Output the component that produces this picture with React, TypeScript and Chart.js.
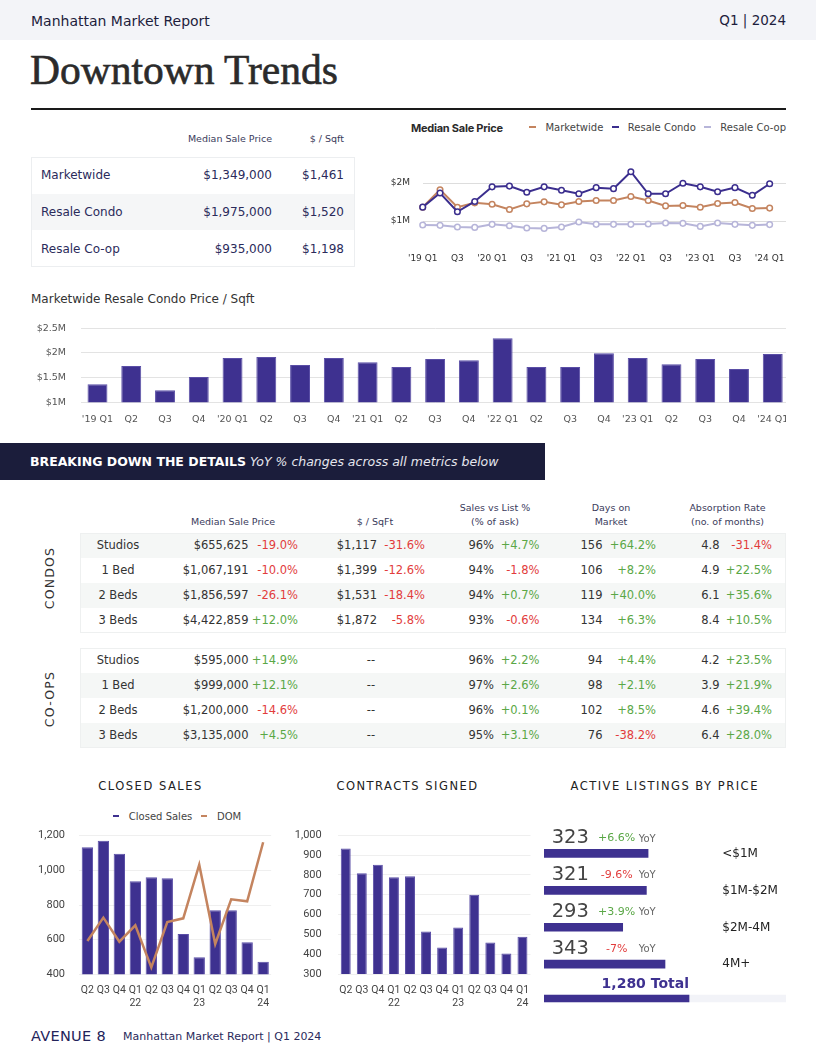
import React, { useEffect, useRef } from "react";
import { Chart, registerables } from "chart.js";

Chart.register(...registerables);

const SANS = "'DejaVu Sans', 'Noto Sans', sans-serif";
const SERIF = "'Liberation Serif', 'DejaVu Serif', serif";
const INTER = "Inter, 'DejaVu Sans', sans-serif";
const ROBOTO = "Roboto, 'DejaVu Sans', sans-serif";

const NAVY = "#3e3190";
const BAR_EDGE = "#5a4ea6";
const LINE_NAVY = "#3b2e8e";
const ORANGE = "#c4845f";
const LAVENDER = "#b7b5d9";
const INK = "#2b2b5b";
const RED = "#e23c3c";
const GREEN = "#5aa746";

// ---------------- data ----------------
const quarterLabels = ["'19 Q1", "Q2", "Q3", "Q4", "'20 Q1", "Q2", "Q3", "Q4", "'21 Q1", "Q2", "Q3", "Q4", "'22 Q1", "Q2", "Q3", "Q4", "'23 Q1", "Q2", "Q3", "Q4", "'24 Q1"];
const marketwidePrice = [1363000, 1823000, 1363000, 1478000, 1442000, 1301000, 1451000, 1504000, 1425000, 1513000, 1540000, 1540000, 1646000, 1540000, 1398000, 1407000, 1363000, 1460000, 1487000, 1330000, 1340000];
const resaleCondoPrice = [1365000, 1736000, 1243000, 1514000, 1899000, 1919000, 1757000, 1899000, 1811000, 1716000, 1878000, 1851000, 2297000, 1716000, 1716000, 1993000, 1899000, 1770000, 1878000, 1676000, 1980000];
const resaleCoopPrice = [894000, 885000, 841000, 832000, 912000, 876000, 814000, 805000, 841000, 973000, 912000, 912000, 912000, 920000, 947000, 938000, 858000, 947000, 912000, 885000, 905000];

const summaryNames = ["Marketwide", "Resale Condo", "Resale Co-op"];
const summaryMedian = ["$1,349,000", "$1,975,000", "$935,000"];
const summarySqft = ["$1,461", "$1,520", "$1,198"];

const unitTypes = ["Studios", "1 Bed", "2 Beds", "3 Beds"];
const condoMedian = ["$655,625", "$1,067,191", "$1,856,597", "$4,422,859"];
const condoMedianYoY = ["-19.0%", "-10.0%", "-26.1%", "+12.0%"];
const condoPsf = ["$1,117", "$1,399", "$1,531", "$1,872"];
const condoPsfYoY = ["-31.6%", "-12.6%", "-18.4%", "-5.8%"];
const condoSvl = ["96%", "94%", "94%", "93%"];
const condoSvlYoY = ["+4.7%", "-1.8%", "+0.7%", "-0.6%"];
const condoDom = ["156", "106", "119", "134"];
const condoDomYoY = ["+64.2%", "+8.2%", "+40.0%", "+6.3%"];
const condoAbs = ["4.8", "4.9", "6.1", "8.4"];
const condoAbsYoY = ["-31.4%", "+22.5%", "+35.6%", "+10.5%"];

const coopMedian = ["$595,000", "$999,000", "$1,200,000", "$3,135,000"];
const coopMedianYoY = ["+14.9%", "+12.1%", "-14.6%", "+4.5%"];
const coopPsf = ["--", "--", "--", "--"];
const coopPsfYoY = ["", "", "", ""];
const coopSvl = ["96%", "97%", "96%", "95%"];
const coopSvlYoY = ["+2.2%", "+2.6%", "+0.1%", "+3.1%"];
const coopDom = ["94", "98", "102", "76"];
const coopDomYoY = ["+4.4%", "+2.1%", "+8.5%", "-38.2%"];
const coopAbs = ["4.2", "3.9", "4.6", "6.4"];
const coopAbsYoY = ["+23.5%", "+21.9%", "+39.4%", "+28.0%"];

const recentQuarters = [["Q2"], ["Q3"], ["Q4"], ["Q1", "22"], ["Q2"], ["Q3"], ["Q4"], ["Q1", "23"], ["Q2"], ["Q3"], ["Q4"], ["Q1", "24"]];
const closedSales = [1133, 1171, 1096, 937, 960, 954, 633, 498, 769, 769, 585, 473];
const domLine = [592, 727, 588, 683, 440, 702, 723, 1033, 575, 833, 821, 1162];
const contractsSigned = [934, 808, 852, 788, 793, 515, 434, 535, 700, 459, 403, 488];

const listingBands = ["<$1M", "$1M-$2M", "$2M-4M", "4M+"];
const listingCounts = [323, 321, 293, 343];
const listingYoY = ["+6.6%", "-9.6%", "+3.9%", "-7%"];
const totalListings = 1280;
const totalScaleMax = 2136;

// ---------------- helpers ----------------
const pctColor = (v: string) => (v.startsWith("-") ? RED : GREEN);

type TProps = {
  x: number; y: number; a?: "l" | "r" | "c"; s?: number; w?: number; c?: string;
  f?: string; it?: boolean; ls?: number; stroke?: number; children?: React.ReactNode;
};
function T({ x, y, a = "l", s = 12, w = 400, c = "#222", f = SANS, it = false, ls = 0, stroke = 0, children }: TProps) {
  const st: any = {
    position: "absolute", top: y - s, height: s * 2, lineHeight: `${s * 2}px`, fontSize: s,
    fontWeight: w, color: c, fontFamily: f, fontStyle: it ? "italic" : "normal",
    letterSpacing: ls, whiteSpace: "nowrap",
  };
  if (stroke) st.WebkitTextStroke = `${stroke}px ${c}`;
  if (a === "l") st.left = x;
  else if (a === "r") st.right = 816 - x;
  else { st.left = x - 300; st.width = 600; st.textAlign = "center"; }
  return <div style={st}>{children}</div>;
}

function ChartBox({ left, top, width, height, clip, make }: { left: number; top: number; width: number; height: number; clip?: number; make: () => any }) {
  const ref = useRef<HTMLCanvasElement | null>(null);
  useEffect(() => {
    if (!ref.current) return;
    const chart = new Chart(ref.current, make());
    return () => chart.destroy();
  }, []);
  return (
    <div style={{ position: "absolute", left, top, width: clip ?? width, height, overflow: "hidden" }}>
      <div style={{ position: "relative", width, height }}>
        <canvas ref={ref} />
      </div>
    </div>
  );
}

const base = (extra: any) => ({
  animation: false,
  responsive: true,
  maintainAspectRatio: false,
  events: [],
  plugins: { legend: { display: false }, tooltip: { enabled: false } },
  ...extra,
});

// fix an axis' size so the plot area lands where the layout wants it
const fixWidth = (w: number) => (s: any) => { s.width = w; s.paddingTop = 0; s.paddingBottom = 0; };
const fixHeight = (h: number) => (s: any) => { s.height = h; };

// ---------------- chart configs ----------------
const lineLabels = [...quarterLabels, ""];
const pointDs = (label: string, data: number[], color: string) => ({
  label, data, borderColor: color, backgroundColor: "#ffffff", borderWidth: 2,
  pointRadius: 2.8, pointBorderWidth: 1.5, pointBackgroundColor: "#ffffff",
  pointBorderColor: color, tension: 0, clip: false,
});

const makeLine = () => ({
  type: "line",
  data: {
    labels: lineLabels,
    datasets: [
      pointDs(summaryNames[1], resaleCondoPrice, LINE_NAVY),
      pointDs(summaryNames[0], marketwidePrice, ORANGE),
      pointDs(summaryNames[2], resaleCoopPrice, LAVENDER),
    ],
  },
  options: base({
    layout: { padding: { left: 0, right: 5.3, top: 14, bottom: 0 } },
    scales: {
      x: {
        type: "category", offset: false, grid: { display: false, drawTicks: false }, border: { display: false },
        ticks: {
          autoSkip: false, maxRotation: 0, minRotation: 0, padding: 13, color: "#333",
          font: { family: SANS, size: 9 },
          callback: (_v: any, i: number) => (i % 2 === 0 ? lineLabels[i] : ""),
        },
        afterFit: fixHeight(35),
      },
      y: {
        min: 500000, max: 2500000, grid: { color: "#dddddd", drawTicks: false }, border: { display: false },
        ticks: { stepSize: 500000, padding: 12.7, color: "#333", font: { family: SANS, size: 9 }, callback: (v: any) => "$" + v / 1e6 + "M" },
        afterBuildTicks: (s: any) => { s.ticks = s.ticks.filter((t: any) => t.value % 1000000 === 0); },
        afterFit: fixWidth(42.7),
      },
    },
  }),
});

const makePsfBars = () => ({
  type: "bar",
  data: {
    labels: quarterLabels,
    datasets: [{
      label: "Marketwide Resale Condo Price / Sqft", data: resaleCondoPrice, backgroundColor: NAVY,
      borderColor: BAR_EDGE, borderWidth: 1, categoryPercentage: 1, barPercentage: 0.59,
    }],
  },
  options: base({
    layout: { padding: { left: 0, right: 9.6, top: 13.3, bottom: 0 } },
    scales: {
      x: {
        grid: { display: false, drawTicks: false }, border: { display: false },
        ticks: { autoSkip: false, maxRotation: 0, minRotation: 0, padding: 11.4, color: "#555", font: { family: SANS, size: 9.5 } },
        afterFit: fixHeight(27.7),
      },
      y: {
        min: 1000000, max: 2500000, grid: { color: "#e3e3e3", drawTicks: false }, border: { display: false },
        ticks: { stepSize: 500000, padding: 14.6, color: "#555", font: { family: SANS, size: 9.5 }, callback: (v: any) => "$" + v / 1e6 + "M" },
        afterFit: fixWidth(60.6),
      },
    },
  }),
});

const smallScales = (min: number, max: number, step: number, yWidth: number, yPad: number, xHeight: number) => ({
  x: {
    grid: { display: false, drawTicks: false }, border: { display: false },
    ticks: { autoSkip: false, maxRotation: 0, minRotation: 0, padding: 10, color: "#444", font: { family: ROBOTO, size: 10.5, lineHeight: 1.2 } },
    afterFit: fixHeight(xHeight),
  },
  y: {
    min, max, grid: { color: "#efefef", drawTicks: false }, border: { display: false },
    ticks: { stepSize: step, padding: yPad, color: "#444", font: { family: ROBOTO, size: 11 }, callback: (v: any) => Number(v).toLocaleString("en-US") },
    afterFit: fixWidth(yWidth),
  },
});

const makeClosed = () => ({
  type: "bar",
  data: {
    labels: recentQuarters,
    datasets: [
      { type: "line", label: "DOM", data: domLine, borderColor: ORANGE, borderWidth: 2.5, pointRadius: 0, tension: 0, order: 1, clip: false },
      { type: "bar", label: "Closed Sales", data: closedSales, backgroundColor: NAVY, borderColor: BAR_EDGE, borderWidth: 1, categoryPercentage: 1, barPercentage: 0.71, order: 2 },
    ],
  },
  options: base({
    layout: { padding: { left: 0, right: 6.7, top: 10.7, bottom: 0 } },
    scales: smallScales(400, 1200, 200, 59.4, 14.4, 40.7),
  }),
});

const makeContracts = () => ({
  type: "bar",
  data: {
    labels: recentQuarters,
    datasets: [
      { label: "Contracts Signed", data: contractsSigned, backgroundColor: NAVY, borderColor: BAR_EDGE, borderWidth: 1, categoryPercentage: 1, barPercentage: 0.62 },
    ],
  },
  options: base({
    layout: { padding: { left: 0, right: 9.5, top: 10.3, bottom: 0 } },
    scales: smallScales(300, 1000, 100, 57.7, 16, 41),
  }),
});

const makeListings = () => ({
  type: "bar",
  data: {
    labels: listingBands,
    datasets: [{ label: "Active Listings", data: listingCounts, backgroundColor: NAVY, barThickness: 8 }],
  },
  options: base({
    indexAxis: "y",
    layout: { padding: 0 },
    scales: { x: { display: false, min: 200, max: 486 }, y: { display: false } },
  }),
});

const makeTotal = () => ({
  type: "bar",
  data: {
    labels: ["Total"],
    datasets: [
      { label: "Total", data: [totalListings], backgroundColor: NAVY, barThickness: 7, grouped: false, order: 1 },
      { label: "Track", data: [totalScaleMax], backgroundColor: "#f2f3f8", barThickness: 7, grouped: false, order: 2 },
    ],
  },
  options: base({
    indexAxis: "y",
    layout: { padding: 0 },
    scales: { x: { display: false, min: 0, max: totalScaleMax }, y: { display: false } },
  }),
});

// ---------------- table pieces ----------------
const ROW_H = 25;
function DetailBlock(props: {
  top: number; shadeEven: boolean; median: string[]; medianYoY: string[]; psf: string[]; psfYoY: string[];
  svl: string[]; svlYoY: string[]; dom: string[]; domYoY: string[]; abs: string[]; absYoY: string[];
}) {
  const { top, shadeEven } = props;
  const S = 11.5;
  return (
    <>
      {unitTypes.map((u, i) => {
        const shaded = (i % 2 === 0) === shadeEven;
        return shaded ? (
          <div key={"bg" + u} style={{ position: "absolute", left: 80, top: top + ROW_H * i, width: 706, height: ROW_H, background: "#f5f7f6" }} />
        ) : null;
      })}
      <div style={{ position: "absolute", left: 80, top, width: 706, height: ROW_H * 4, border: "1px solid #eef0f0", boxSizing: "border-box" }} />
      {unitTypes.map((u, i) => {
        const y = top + ROW_H * i + ROW_H / 2;
        return (
          <React.Fragment key={u}>
            <T x={118} y={y} a="c" s={S} c="#333">{u}</T>
            <T x={248.5} y={y} a="r" s={S} c="#333">{props.median[i]}</T>
            <T x={298} y={y} a="r" s={S} c={pctColor(props.medianYoY[i])}>{props.medianYoY[i]}</T>
            {props.psfYoY[i] ? (
              <>
                <T x={377} y={y} a="r" s={S} c="#333">{props.psf[i]}</T>
                <T x={425} y={y} a="r" s={S} c={pctColor(props.psfYoY[i])}>{props.psfYoY[i]}</T>
              </>
            ) : (
              <T x={371} y={y} a="c" s={S} c="#333">{props.psf[i]}</T>
            )}
            <T x={494} y={y} a="r" s={S} c="#333">{props.svl[i]}</T>
            <T x={539.5} y={y} a="r" s={S} c={pctColor(props.svlYoY[i])}>{props.svlYoY[i]}</T>
            <T x={602.5} y={y} a="r" s={S} c="#333">{props.dom[i]}</T>
            <T x={656} y={y} a="r" s={S} c={pctColor(props.domYoY[i])}>{props.domYoY[i]}</T>
            <T x={719.5} y={y} a="r" s={S} c="#333">{props.abs[i]}</T>
            <T x={772} y={y} a="r" s={S} c={pctColor(props.absYoY[i])}>{props.absYoY[i]}</T>
          </React.Fragment>
        );
      })}
    </>
  );
}

function VLabel({ x, y, text }: { x: number; y: number; text: string }) {
  return (
    <div style={{
      position: "absolute", left: x - 60, top: y - 10, width: 120, height: 20, lineHeight: "20px",
      textAlign: "center", transform: "rotate(-90deg)", fontFamily: SANS, fontSize: 12.5,
      letterSpacing: 1.2, color: "#333",
    }}>{text}</div>
  );
}

function Legend({ names, colors, left, width, top, justify, markW, markGap, itemGap }: {
  names: string[]; colors: string[]; left: number; width: number; top: number; justify: string; markW: number; markGap: number; itemGap: number;
}) {
  return (
    <div style={{
      position: "absolute", left, width, top: top - 8, height: 16, display: "flex", justifyContent: justify,
      alignItems: "center", gap: itemGap, fontFamily: SANS, fontSize: 10, color: "#444", whiteSpace: "nowrap",
    }}>
      {names.map((n, i) => (
        <div key={n} style={{ display: "flex", alignItems: "center" }}>
          <span style={{ width: markW, height: 2.5, background: colors[i], marginRight: markGap }} />
          <span>{n}</span>
        </div>
      ))}
    </div>
  );
}

// ---------------- page ----------------
export default function App() {
  return (
    <div style={{ position: "absolute", left: 0, top: 0, width: 816, height: 1056, background: "#ffffff", overflow: "hidden", fontFamily: SANS }}>
      {/* header band */}
      <div style={{ position: "absolute", left: 0, top: 0, width: 816, height: 40, background: "#f3f4f8" }} />
      <T x={31} y={20.5} s={14} c="#1d1d3d">Manhattan Market Report</T>
      <T x={786} y={20.5} a="r" s={13.5} c="#1d1d3d">Q1 | 2024</T>

      <T x={30} y={70.3} s={41.5} f={SERIF} c="#2b2b2b" stroke={0.6}>Downtown Trends</T>
      <div style={{ position: "absolute", left: 31, top: 108, width: 755, height: 2, background: "#1a1a1a" }} />

      {/* summary table */}
      <T x={272} y={138.3} a="r" s={9.5} c="#3b3b5c">Median Sale Price</T>
      <T x={344} y={138.3} a="r" s={9.5} c="#3b3b5c">$ / Sqft</T>
      <div style={{ position: "absolute", left: 30.5, top: 193.7, width: 324, height: 36.7, background: "#f5f6f7" }} />
      <div style={{ position: "absolute", left: 30.5, top: 157, width: 324, height: 110, border: "1px solid #eceef0", boxSizing: "border-box" }} />
      {summaryNames.map((n, i) => {
        const y = 175.3 + i * 36.7;
        return (
          <React.Fragment key={n}>
            <T x={41} y={y} s={12} c={INK}>{n}</T>
            <T x={272} y={y} a="r" s={12} c={INK}>{summaryMedian[i]}</T>
            <T x={344} y={y} a="r" s={12} c={INK}>{summarySqft[i]}</T>
          </React.Fragment>
        );
      })}

      {/* median sale price line chart */}
      <T x={411} y={128} s={11} w={700} f={INTER} ls={-0.25} c="#2b2b2b">Median Sale Price</T>
      <Legend names={summaryNames} colors={[ORANGE, LINE_NAVY, LAVENDER]} left={486} width={300} top={127} justify="flex-end" markW={7} markGap={9} itemGap={8.5} />
      <ChartBox left={380} top={150} width={420} height={125} clip={406} make={makeLine} />

      {/* price / sqft bars */}
      <T x={31} y={299} s={12} c="#333">Marketwide Resale Condo Price / Sqft</T>
      <ChartBox left={20} top={315} width={780} height={115} clip={766} make={makePsfBars} />

      {/* details banner */}
      <div style={{ position: "absolute", left: 0, top: 442.5, width: 545, height: 37.5, background: "#1b1d3b" }} />
      <T x={30} y={461} s={12.5} c="#ffffff">
        <span style={{ fontWeight: 700 }}>BREAKING DOWN THE DETAILS</span>{" "}
        <span style={{ fontStyle: "italic", color: "#e6e6ee" }}>YoY % changes across all metrics below</span>
      </T>

      {/* detail headers */}
      <T x={233} y={521.7} a="c" s={9.5} c="#3b3b5c">Median Sale Price</T>
      <T x={375} y={521.7} a="c" s={9.5} c="#3b3b5c">$ / SqFt</T>
      <T x={495} y={507.5} a="c" s={9.5} c="#3b3b5c">Sales vs List %</T>
      <T x={495} y={521.7} a="c" s={9.5} c="#3b3b5c">(% of ask)</T>
      <T x={611} y={507.5} a="c" s={9.5} c="#3b3b5c">Days on</T>
      <T x={611} y={521.7} a="c" s={9.5} c="#3b3b5c">Market</T>
      <T x={727.5} y={507.5} a="c" s={9.5} c="#3b3b5c">Absorption Rate</T>
      <T x={727.5} y={521.7} a="c" s={9.5} c="#3b3b5c">(no. of months)</T>

      <VLabel x={50} y={577.5} text="CONDOS" />
      <DetailBlock top={533.3} shadeEven={true} median={condoMedian} medianYoY={condoMedianYoY} psf={condoPsf} psfYoY={condoPsfYoY}
        svl={condoSvl} svlYoY={condoSvlYoY} dom={condoDom} domYoY={condoDomYoY} abs={condoAbs} absYoY={condoAbsYoY} />

      <VLabel x={50} y={698.5} text="CO-OPS" />
      <DetailBlock top={647.5} shadeEven={false} median={coopMedian} medianYoY={coopMedianYoY} psf={coopPsf} psfYoY={coopPsfYoY}
        svl={coopSvl} svlYoY={coopSvlYoY} dom={coopDom} domYoY={coopDomYoY} abs={coopAbs} absYoY={coopAbsYoY} />

      {/* bottom charts */}
      <T x={150.5} y={786.7} a="c" s={11.5} ls={1.5} c="#222">CLOSED SALES</T>
      <Legend names={["Closed Sales", "DOM"]} colors={[NAVY, ORANGE]} left={77} width={200} top={816} justify="center" markW={6} markGap={10} itemGap={8.7} />
      <ChartBox left={20} top={825} width={260} height={190} make={makeClosed} />

      <T x={407.5} y={786.5} a="c" s={11.5} ls={1.5} c="#222">CONTRACTS SIGNED</T>
      <ChartBox left={280} top={825} width={260} height={190} make={makeContracts} />

      <T x={664.7} y={786} a="c" s={11.5} ls={1.5} c="#222">ACTIVE LISTINGS BY PRICE</T>
      {listingBands.map((b, i) => (
        <React.Fragment key={b}>
          <T x={570.3} y={836.7 + i * 36.9} a="c" s={19.5} c="#444">{String(listingCounts[i])}</T>
          <T x={616.7} y={838 + i * 36.9} a="c" s={11} c={pctColor(listingYoY[i])}>{listingYoY[i]}</T>
          <T x={638.7} y={838.5 + i * 36.9} s={10} c="#666">YoY</T>
          <T x={722.3} y={852.7 + i * 36.9} s={12} c="#222">{b}</T>
        </React.Fragment>
      ))}
      <ChartBox left={544} top={834.5} width={242} height={147.6} make={makeListings} />
      <T x={689} y={983} a="r" s={14} w={700} c={NAVY}>{totalListings.toLocaleString("en-US")} Total</T>
      <ChartBox left={544} top={989.8} width={242} height={17} make={makeTotal} />

      {/* footer */}
      <T x={31} y={1036} s={14.5} c="#23235a" ls={0.3}>AVENUE 8</T>
      <T x={123} y={1036.5} s={11} c="#2a2a5c">Manhattan Market Report | Q1 2024</T>
    </div>
  );
}
